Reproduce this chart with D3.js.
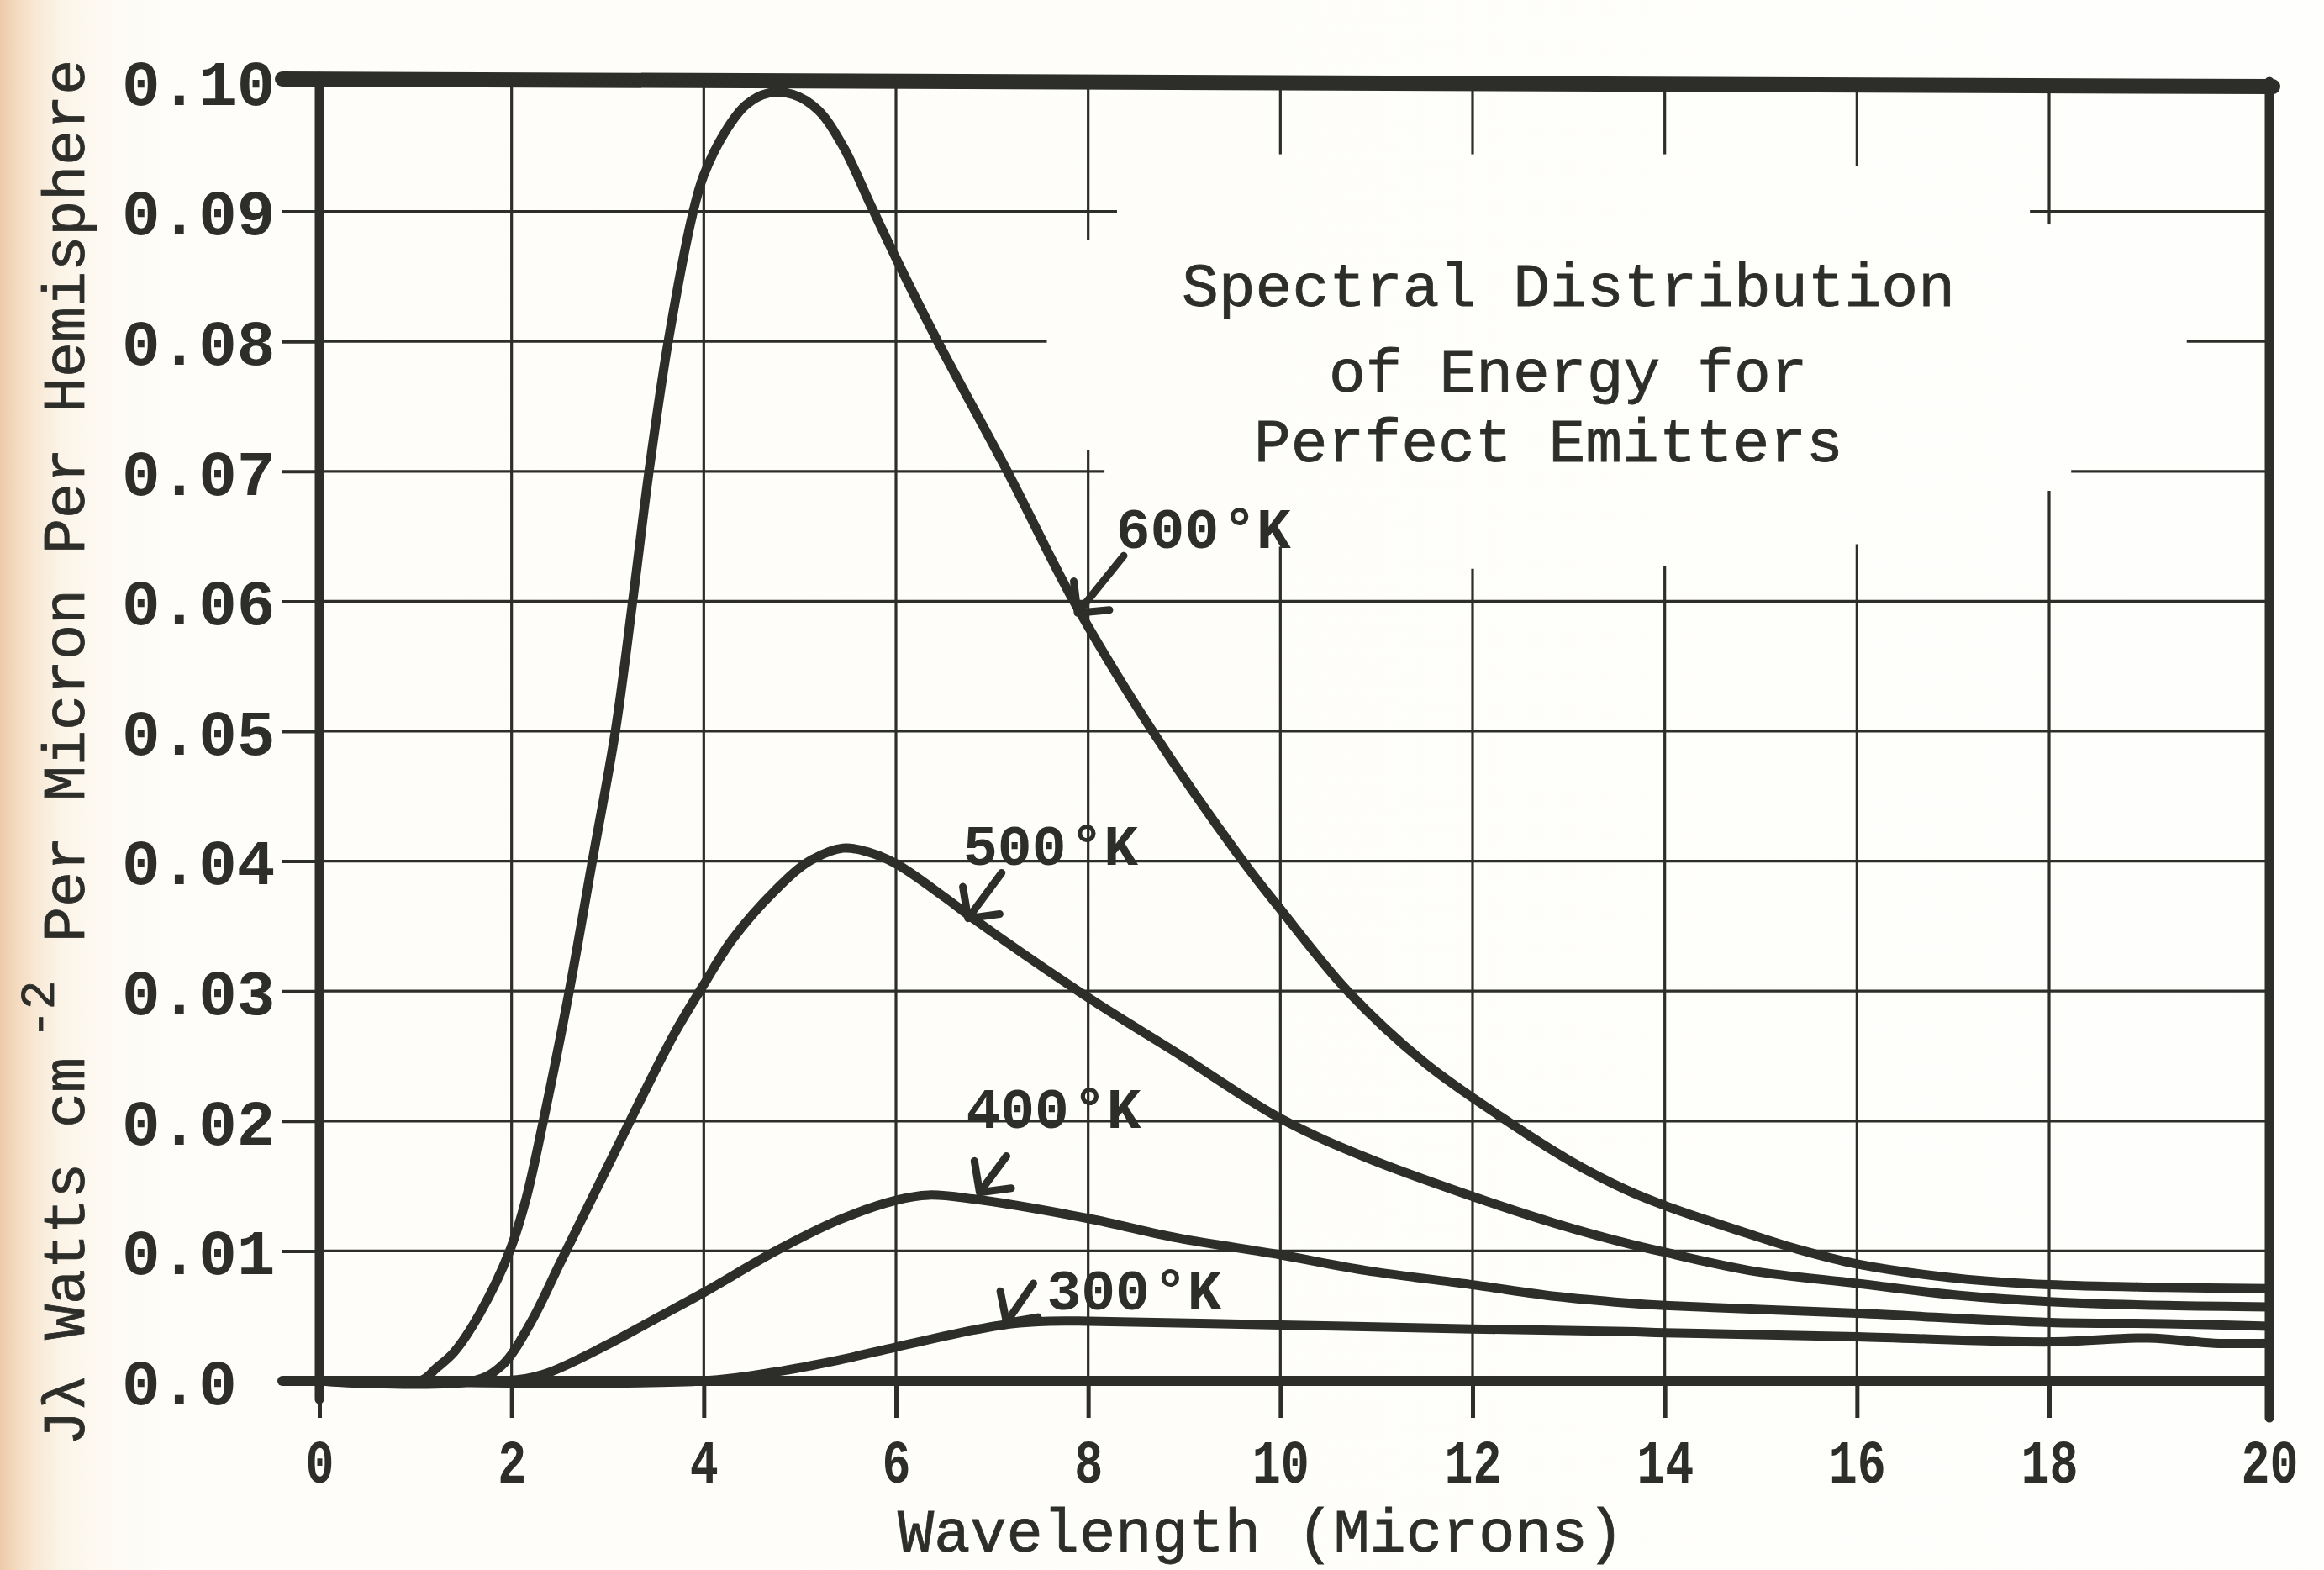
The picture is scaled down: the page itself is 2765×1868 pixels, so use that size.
<!DOCTYPE html>
<html>
<head>
<meta charset="utf-8">
<script src="https://cdn.jsdelivr.net/npm/d3@7"></script>
<style>
  html, body { margin: 0; padding: 0; background: #fefefc; }
  svg { display: block; }
</style>
</head>
<body>
<script>
// ---------------- DATA ----------------
const xTicks = [0, 2, 4, 6, 8, 10, 12, 14, 16, 18, 20];
const xTickLabels = ["0", "2", "4", "6", "8", "10", "12", "14", "16", "18", "20"];
const yTicks = [0, 0.01, 0.02, 0.03, 0.04, 0.05, 0.06, 0.07, 0.08, 0.09, 0.10];
const yTickLabels = ["0.0", "0.01", "0.02", "0.03", "0.04", "0.05", "0.06", "0.07", "0.08", "0.09", "0.10"];

const seriesNames = ["600", "500", "400", "300"];

const wl600 = [0, 1.05, 1.22, 1.4, 1.67, 1.98, 2.15, 2.33, 2.6, 2.84, 3.08, 3.26, 3.43, 3.63, 3.89, 4.0, 4.22, 4.44, 4.67, 4.93, 5.19, 5.45, 5.73, 6.0, 6.42, 7.18, 7.85, 8.67, 9.61, 10.0, 10.7, 11.5, 12.3, 13.0, 13.6, 14.0, 14.88, 15.4, 16.0, 17.04, 18.0, 19.06, 20];
const j600  = [0, 0, 0.001, 0.0022, 0.0052, 0.0100, 0.0140, 0.0200, 0.0300, 0.0400, 0.0500, 0.0600, 0.0700, 0.0800, 0.0900, 0.0928, 0.0961, 0.0982, 0.0991, 0.0990, 0.0978, 0.0950, 0.0906, 0.0864, 0.0802, 0.0697, 0.0600, 0.0500, 0.0400, 0.0363, 0.0300, 0.0245, 0.0203, 0.0170, 0.0147, 0.0135, 0.0113, 0.0101, 0.0090, 0.0079, 0.0074, 0.0072, 0.0071];

const wl500 = [0, 1.6, 1.9, 2.2, 2.5, 2.8, 3.1, 3.4, 3.7, 4.0, 4.3, 4.75, 5.1, 5.45, 5.71, 6.0, 6.51, 6.8, 8.0, 8.93, 10.0, 10.89, 12.0, 12.87, 13.6, 14.0, 14.88, 16.0, 17.04, 18.0, 19.06, 20];
const j500  = [0, 0, 0.0012, 0.0045, 0.0090, 0.0135, 0.0180, 0.0225, 0.0268, 0.0305, 0.0340, 0.0378, 0.0400, 0.0410, 0.0407, 0.0398, 0.0372, 0.0356, 0.0295, 0.0252, 0.0202, 0.0172, 0.0142, 0.0121, 0.0106, 0.0099, 0.0085, 0.0075, 0.0066, 0.0061, 0.0058, 0.0057];

const wl400 = [0, 1.93, 2.33, 3.0, 3.5, 4.0, 4.75, 5.41, 6.0, 6.34, 6.8, 8.0, 8.93, 10.0, 10.89, 12.0, 12.87, 13.6, 14.0, 16.0, 18.0, 19.06, 20];
const j400  = [0, 0, 0.0005, 0.0028, 0.0048, 0.0068, 0.0100, 0.0124, 0.0139, 0.0143, 0.0140, 0.0125, 0.0110, 0.0097, 0.0085, 0.0074, 0.0065, 0.0060, 0.0058, 0.0052, 0.0045, 0.0044, 0.0042];

const wl300 = [0, 4.0, 4.75, 5.4, 6.0, 6.8, 7.2, 7.6, 8.0, 10.0, 12.0, 13.6, 14.0, 16.0, 18.0, 18.9, 19.5, 20];
const j300  = [0, 0, 0.0007, 0.0016, 0.0026, 0.0039, 0.0044, 0.0046, 0.0046, 0.0043, 0.0040, 0.0038, 0.0037, 0.0034, 0.0030, 0.0033, 0.0029, 0.0029];

const titleLines = ["Spectral Distribution", "of Energy for", "Perfect Emitters"];
const xAxisTitle = "Wavelength (Microns)";
const yAxisTitleParts = ["Jλ Watts cm", "-2", "Per Micron Per Hemisphere"];

// gridline interruptions (data units) around the title block
const vGridGaps = [[8, 0.0716, 0.0878], [10, 0.0642, 0.0944], [12, 0.0625, 0.0944], [14, 0.0627, 0.0944], [16, 0.0644, 0.0935], [18, 0.0685, 0.089]];
const hGridGaps = [[0.09, 8.3, 17.8], [0.08, 7.57, 19.25], [0.07, 8.17, 18.2]];

// ---------------- LAYOUT ----------------
const W = 2765, H = 1868;
const ink = "#2d2e2a";
const mono = "'Liberation Mono', 'Courier New', monospace";

const x = d3.scaleLinear().domain([0, 18, 20]).range([380, 2438, 2700]);
const y = d3.scaleLinear().domain([0, 0.1]).range([1643, 97]);

const svg = d3.select("body").append("svg").attr("width", W).attr("height", H);

// paper
const defs = svg.append("defs");
const grad = defs.append("linearGradient").attr("id", "paper").attr("x1", "0").attr("x2", "1").attr("y1", "0").attr("y2", "0");
[["0%", "#eecaa9"], ["0.6%", "#f3d8bd"], ["1.5%", "#f8e8d4"], ["2.5%", "#fbf3e6"], ["4%", "#fdf9f1"], ["7%", "#fefdf9"], ["100%", "#fefefc"]]
  .forEach(s => grad.append("stop").attr("offset", s[0]).attr("stop-color", s[1]));
svg.append("rect").attr("width", W).attr("height", H).attr("fill", "url(#paper)");

// ---------------- GRID ----------------
const grid = svg.append("g").attr("stroke", ink).attr("stroke-width", 3.2).attr("fill", "none");
xTicks.slice(1, -1).forEach(t => {
  const gap = vGridGaps.find(g => g[0] === t);
  const segs = gap ? [[0, gap[1]], [gap[2], 0.1]] : [[0, 0.1]];
  segs.forEach(s => grid.append("line").attr("x1", x(t)).attr("x2", x(t)).attr("y1", y(s[0])).attr("y2", y(s[1])));
});
yTicks.slice(1, -1).forEach(t => {
  const gap = hGridGaps.find(g => Math.abs(g[0] - t) < 1e-9);
  const segs = gap ? [[0, gap[1]], [gap[2], 20]] : [[0, 20]];
  segs.forEach(s => grid.append("line").attr("y1", y(t)).attr("y2", y(t)).attr("x1", x(s[0])).attr("x2", x(s[1])));
});

// ---------------- AXES ----------------
const yAxis = d3.axisLeft(y).tickValues(yTicks).tickSize(44).tickPadding(10)
  .tickFormat((d, i) => yTickLabels[i]);
const gy = svg.append("g").attr("transform", `translate(${x(0)},0)`).call(yAxis);
gy.select(".domain").remove();
gy.selectAll(".tick line").attr("stroke", ink).attr("stroke-width", 4);
// labels are typed flush-left in a column
gy.selectAll(".tick text").attr("fill", ink).attr("font-family", mono).attr("font-size", 76)
  .attr("font-weight", "bold").attr("dy", "0.36em")
  .attr("text-anchor", "start").attr("x", 145 - x(0));

const xAxis = d3.axisBottom(x).tickValues(xTicks).tickSize(44).tickPadding(26)
  .tickFormat((d, i) => xTickLabels[i]);
const gx = svg.append("g").attr("transform", `translate(0,${y(0)})`).call(xAxis);
gx.select(".domain").remove();
gx.selectAll(".tick line").attr("stroke", ink).attr("stroke-width", 5);
gx.selectAll(".tick text").attr("fill", ink).attr("font-family", mono).attr("font-size", 72)
  .attr("font-weight", "bold")
  .attr("textLength", (d, i) => xTickLabels[i].length * 34).attr("lengthAdjust", "spacingAndGlyphs");

// frame
const frame = svg.append("g").attr("stroke", ink).attr("fill", "none").attr("stroke-linecap", "round");
frame.append("line").attr("x1", x(0)).attr("x2", x(0)).attr("y1", y(0.1) - 6).attr("y2", y(0) + 22).attr("stroke-width", 11);
frame.append("line").attr("x1", x(0) - 44).attr("x2", x(20)).attr("y1", y(0)).attr("y2", y(0)).attr("stroke-width", 12);
frame.append("line").attr("x1", x(0) - 44).attr("x2", x(20) + 4).attr("y1", y(0.1) - 3).attr("y2", y(0.1) + 6).attr("stroke-width", 18);
frame.append("line").attr("x1", x(20)).attr("x2", x(20)).attr("y1", y(0.1)).attr("y2", y(0) + 44).attr("stroke-width", 11);

// ---------------- CURVES ----------------
const seriesData = [
  d3.zip(wl600, j600),
  d3.zip(wl500, j500),
  d3.zip(wl400, j400),
  d3.zip(wl300, j300)
];
const line = d3.line().x(d => x(d[0])).y(d => y(d[1])).curve(d3.curveCatmullRom.alpha(0.5));
svg.append("g").selectAll("path").data(seriesData).join("path")
  .attr("d", line).attr("fill", "none").attr("stroke", ink).attr("stroke-width", 11)
  .attr("stroke-linejoin", "round").attr("stroke-linecap", "round");

// ---------------- CURVE LABELS + ARROWS ----------------
// label start (wavelength, J) and arrow tail/tip in data units
const labelPos = [[8.29, 0.0641], [6.70, 0.0397], [6.73, 0.0195], [7.57, 0.0055]];
const arrowTail = [[8.37, 0.0635], [7.10, 0.0391], [7.15, 0.0173], [7.43, 0.0075]];
const arrowTip  = [[7.89, 0.0591], [6.75, 0.0356], [6.87, 0.0145], [7.15, 0.0045]];

const ann = svg.append("g");
seriesNames.forEach((name, i) => {
  const t = ann.append("text").attr("x", x(labelPos[i][0])).attr("y", y(labelPos[i][1]))
    .attr("font-family", mono).attr("font-size", 68).attr("font-weight", "bold").attr("fill", ink);
  t.append("tspan").text(name);
  t.append("tspan").attr("dx", 4).text("°K");

  const x1 = x(arrowTail[i][0]), y1 = y(arrowTail[i][1]);
  const x2 = x(arrowTip[i][0]), y2 = y(arrowTip[i][1]);
  const ang = Math.atan2(y1 - y2, x1 - x2);
  const L = 38, spread = 0.8;
  const b1 = [x2 + L * Math.cos(ang - spread), y2 + L * Math.sin(ang - spread)];
  const b2 = [x2 + L * Math.cos(ang + spread), y2 + L * Math.sin(ang + spread)];
  ann.append("path")
    .attr("d", `M${x1},${y1}L${x2},${y2}M${b1[0]},${b1[1]}L${x2},${y2}L${b2[0]},${b2[1]}`)
    .attr("fill", "none").attr("stroke", ink).attr("stroke-width", 9)
    .attr("stroke-linecap", "round").attr("stroke-linejoin", "round");
});

// ---------------- TITLE BLOCK ----------------
const titleX = [1406, 1581, 1492];
const titleY = [364, 466, 549];
svg.append("g").selectAll("text").data(titleLines).join("text")
  .attr("x", (d, i) => titleX[i]).attr("y", (d, i) => titleY[i])
  .attr("font-family", mono).attr("font-size", 73).attr("fill", ink)
  .attr("stroke", ink).attr("stroke-width", 0.8)
  .text(d => d);

// ---------------- AXIS TITLES ----------------
svg.append("text").attr("x", 1500).attr("y", 1846)
  .attr("text-anchor", "middle").attr("font-family", mono).attr("font-size", 72)
  .attr("fill", ink).attr("stroke", ink).attr("stroke-width", 0.8).text(xAxisTitle);

// vertical title: main text, raised superscript, rest
const yTitlePos = [[100, 1720, 70], [64, 1236, 58], [100, 1121, 70]];
yAxisTitleParts.forEach((s, i) => {
  svg.append("text")
    .attr("transform", `translate(${yTitlePos[i][0]},${yTitlePos[i][1]}) rotate(-90)`)
    .attr("font-family", mono).attr("font-size", yTitlePos[i][2]).attr("fill", ink)
    .attr("stroke", ink).attr("stroke-width", 0.8).text(s);
});
</script>
</body>
</html>
